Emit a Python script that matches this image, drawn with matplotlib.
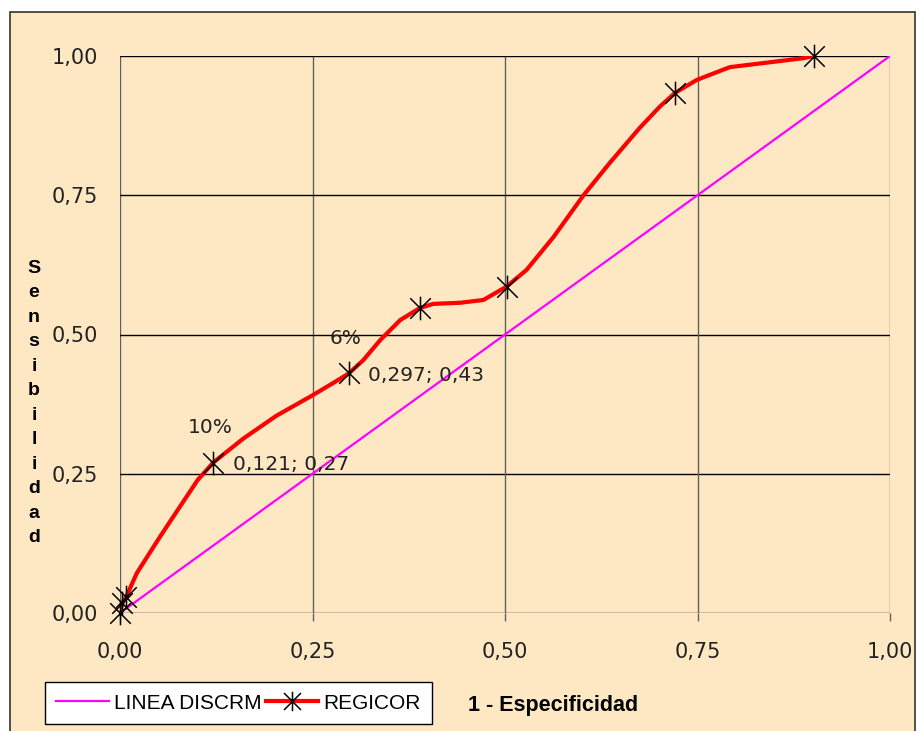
import numpy as np
import matplotlib as mpl
mpl.use('Agg')
import matplotlib.pyplot as plt
from matplotlib.path import Path
from matplotlib.lines import Line2D
from matplotlib.patches import Rectangle

# Data
# smoothed REGICOR curve (traced)
curve_x = [0.0, 0.003, 0.008, 0.022, 0.052, 0.075, 0.101, 0.121, 0.160, 0.203, 0.249,
           0.277, 0.297, 0.316, 0.338, 0.364, 0.390, 0.407, 0.442, 0.472, 0.502, 0.528,
           0.563, 0.602, 0.636, 0.675, 0.701, 0.721, 0.749, 0.792, 0.887, 0.901]
curve_y = [0.0, 0.018, 0.029, 0.072, 0.137, 0.185, 0.239, 0.270, 0.313, 0.354, 0.390,
           0.413, 0.430, 0.454, 0.490, 0.526, 0.548, 0.555, 0.557, 0.562, 0.586, 0.616,
           0.675, 0.750, 0.808, 0.871, 0.909, 0.934, 0.957, 0.980, 0.996, 1.000]
# points with markers
marker_x = [0.0, 0.003, 0.008, 0.121, 0.297, 0.390, 0.502, 0.721, 0.901]
marker_y = [0.0, 0.018, 0.029, 0.270, 0.430, 0.548, 0.586, 0.934, 1.000]
# diagonal reference line
diag_x = [0.0, 1.0]
diag_y = [0.0, 1.0]
ticks = [0.0, 0.25, 0.5, 0.75, 1.0]
tick_labels = ['0,00', '0,25', '0,50', '0,75', '1,00']
annotations = [(0.121, 0.27, '10%', '0,121; 0,27'), (0.297, 0.43, '6%', '0,297; 0,43')]

bg = '#FEE8C3'
W, H = 919, 731

# asterisk marker: X plus vertical bar
star = Path([(-1, -1), (1, 1), (-1, 1), (1, -1), (0, -1.15), (0, 1.15)],
            [Path.MOVETO, Path.LINETO, Path.MOVETO, Path.LINETO, Path.MOVETO, Path.LINETO])

fig = plt.figure(figsize=(W / 100, H / 100), dpi=100)
fig.patch.set_facecolor('white')
fig.patches.append(Rectangle((10 / W, -0.05), 905 / W, 1.05 - 12 / H, transform=fig.transFigure,
                             facecolor=bg, edgecolor='#333333', linewidth=1.2, zorder=-5))

ax = fig.add_axes([120 / W, (H - 613) / H, 770 / W, 557 / H])
ax.set_facecolor(bg)
ax.set_xlim(0, 1)
ax.set_ylim(0, 1)

for t in ticks:
    ax.axhline(t, color='black', linewidth=1.0, zorder=1)
    ax.axvline(t, color='#606060', linewidth=1.0, zorder=1)

ax.plot(diag_x, diag_y, color='#FF00FF', linewidth=1.6, zorder=3)
ax.plot(curve_x, curve_y, color='#FF0000', linewidth=3.0, solid_joinstyle='round', zorder=4)
ax.plot(marker_x, marker_y, linestyle='none', marker=star, markersize=17,
        markeredgecolor='black', markeredgewidth=1.1, zorder=5, clip_on=False)

for x, y, pct, lab in annotations:
    ax.annotate(pct, (x, y), xytext=(-2, 25), textcoords='offset points',
                ha='center', va='center', fontsize=14.5, color='#222222')
    ax.annotate(lab, (x, y), xytext=(14, -1.5), textcoords='offset points',
                ha='left', va='center', fontsize=14.5, color='#222222')

for s in ax.spines.values():
    s.set_visible(False)

ax.set_xticks(ticks)
ax.set_xticklabels(tick_labels)
ax.set_yticks(ticks)
ax.set_yticklabels(tick_labels)
ax.tick_params(axis='x', length=6, width=1.0, color='#606060', pad=15, labelsize=15, labelcolor='#222222')
ax.tick_params(axis='y', length=0, pad=16, labelsize=15, labelcolor='#222222')

fig.text(553 / W, 1 - 706 / H, '1 - Especificidad', ha='center', va='center',
         fontsize=15.5, fontweight='bold', family='Liberation Sans')
fig.text(34 / W, 1 - 403 / H, '\n'.join('Sensibilidad'), ha='center', va='center',
         fontsize=14, fontweight='bold', family='Liberation Sans', linespacing=1.58)

handles = [Line2D([], [], color='#FF00FF', linewidth=1.6),
           Line2D([], [], color='#FF0000', linewidth=3.0, marker=star, markersize=14,
                  markeredgecolor='black', markeredgewidth=1.1)]
leg = fig.legend(handles, ['LINEA DISCRM', 'REGICOR'], loc='lower left',
                 bbox_to_anchor=(45 / W, 7 / H), ncol=2, frameon=True, fancybox=False,
                 prop={'family': 'Liberation Sans', 'size': 15}, handlelength=2.5,
                 handletextpad=0.25, columnspacing=0.2, borderpad=0.55, borderaxespad=0)
leg.get_frame().set_edgecolor('black')
leg.get_frame().set_facecolor('white')
leg.get_frame().set_alpha(1)
leg.get_frame().set_linewidth(1.0)

plt.savefig('out.png', dpi=100, facecolor='white')
